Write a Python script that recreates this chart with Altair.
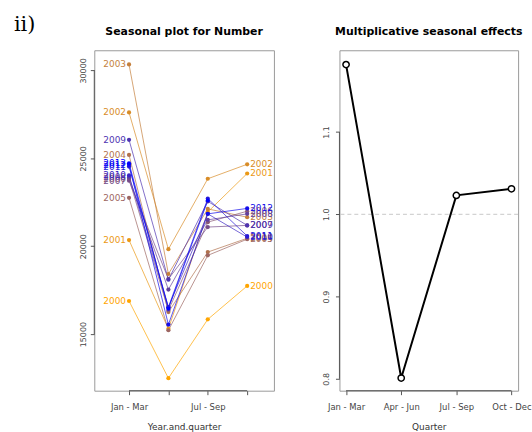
import json
import altair as alt
import pandas as pd

# ---------------- data ----------------
years = list(range(2000, 2014))
q1 = [16885, 20350, 27607, 30339, 25192, 22754, 23826, 23725, 23911, 26050, 24024, 24532, 24627, 24718]
q2 = [12494, 15300, 19831, 18420, 16253, 15220, 16350, 18138, 17534, 18100, 16535, 16535, 15542, 16450]
q3 = [15841, 21950, 23837, 22122, 19667, 19480, 21370, 21090, 21500, 22550, 21840, 22709, 21840, 22600]
q4 = [17740, 24137, 24661, 21650, 20451, 20400, 21990, 21185, 21840, 21185, 20520, 20581, 22150, None]
quarter_labels = ["Jan - Mar", "Apr - Jun", "Jul - Sep", "Oct - Dec"]
effects = [1.182, 0.801, 1.023, 1.031]
left_ticks = [15000, 20000, 25000, 30000]
right_ticks = [0.8, 0.9, 1.0, 1.1]

# ---------------- styles ----------------
def ramp(n):
    cols = []
    for i in range(n):
        t = i / (n - 1)
        cols.append("#%02x%02x%02x" % (round(255 * (1 - t)), round(165 * (1 - t)), round(255 * t)))
    return cols

palette = ramp(len(years))
FONT = "DejaVu Sans"
W1, W2, H = 181, 180, 343

rows = []
for i, y in enumerate(years):
    for q, v in enumerate([q1[i], q2[i], q3[i], q4[i]], start=1):
        if v is not None:
            rows.append({"yr": str(y), "q": q, "value": v})
df = pd.DataFrame(rows)
last_q = df.groupby("yr")["q"].max().to_dict()
df["last"] = df.apply(lambda r: 1 if (r["q"] == 4) else 0, axis=1)

eff_df = pd.DataFrame({"q": [1, 2, 3, 4], "effect": effects, "label": quarter_labels})

def one(**kw):
    return alt.Data(values=[kw])

common_axis = dict(domain=False, grid=False, tickSize=4, tickColor="#555555", tickWidth=1,
                   labelFont=FONT, labelColor="#444444", titleFont=FONT, titleFontSize=9,
                   titleFontWeight="normal", titleColor="#333333")

# ---------------- left panel ----------------
xs1 = alt.Scale(domain=[0.118, 4.68], nice=False, zero=False)
ys1 = alt.Scale(domain=[11783, 31146], nice=False, zero=False)
xax1 = alt.Axis(values=[1, 2, 3, 4],
                labelExpr="datum.value == 1 ? '%s' : datum.value == 3 ? '%s' : ''" % (quarter_labels[0], quarter_labels[2]),
                labelFontSize=8.5, labelPadding=8, labelBaseline="top",
                title="Year.and.quarter", titleY=39, titleBaseline="alphabetic", **common_axis)
yax1 = alt.Axis(values=left_ticks, format="d", labelAngle=270, labelAlign="center",
                labelBaseline="bottom", labelPadding=3, labelFontSize=8, title=None, **common_axis)

color = alt.Color("yr:N", scale=alt.Scale(domain=[str(y) for y in years], range=palette), legend=None)
X1 = alt.X("q:Q", scale=xs1, axis=xax1)
Y1 = alt.Y("value:Q", scale=ys1, axis=yax1)

base = alt.Chart(df)
lines = base.mark_line(strokeWidth=1, opacity=0.7).encode(x=X1, y=Y1, color=color, order="q:Q")
pts = base.mark_circle(size=18, opacity=1).encode(x=X1, y=Y1, color=color)
lab_l = base.transform_filter("datum.q == 1").mark_text(
    align="right", baseline="middle", dx=-3, font=FONT, fontSize=9).encode(x=X1, y=Y1, text="yr:N", color=color)
lab_r = base.transform_filter("datum.q == 4").mark_text(
    align="left", baseline="middle", dx=3, font=FONT, fontSize=9).encode(x=X1, y=Y1, text="yr:N", color=color)

yseg1 = alt.Chart(one(a=0)).mark_rule(color="#555555").encode(
    x=alt.value(0), y=alt.datum(left_ticks[0]), y2=alt.datum(left_ticks[-1]))
xseg1 = alt.Chart(one(a=0)).mark_rule(color="#555555").encode(
    x=alt.datum(1), x2=alt.datum(4), y=alt.value(H))
title1 = alt.Chart(one(t="Seasonal plot for Number")).mark_text(
    font=FONT, fontSize=11, fontWeight="bold", align="center", baseline="alphabetic", color="black").encode(
    text="t:N", x=alt.value(W1 / 2), y=alt.value(-15))
tag = alt.Chart(one(t="ii)")).mark_text(
    font="DejaVu Serif", fontSize=21, align="left", baseline="top", color="black").encode(
    text="t:N", x=alt.value(-81), y=alt.value(-36))

left = alt.layer(lines, pts, lab_l, lab_r, yseg1, xseg1, title1, tag).properties(width=W1, height=H)

# ---------------- right panel ----------------
xs2 = alt.Scale(domain=[0.88, 4.12], nice=False, zero=False)
ys2 = alt.Scale(domain=[0.7856, 1.1994], nice=False, zero=False)
xax2 = alt.Axis(values=[1, 2, 3, 4],
                labelExpr="%s[datum.value - 1]" % json.dumps(quarter_labels).replace('"', "'"),
                labelFontSize=8.5, labelPadding=8, labelBaseline="top",
                title="Quarter", titleY=39, titleBaseline="alphabetic", **common_axis)
yax2 = alt.Axis(values=right_ticks, format=".1f", labelAngle=270, labelAlign="center",
                labelBaseline="bottom", labelPadding=5, labelFontSize=8, title=None, **common_axis)
X2 = alt.X("q:Q", scale=xs2, axis=xax2)
Y2 = alt.Y("effect:Q", scale=ys2, axis=yax2)

base2 = alt.Chart(eff_df)
ref = alt.Chart(one(a=0)).mark_rule(color="#c8c8c8", strokeDash=[4, 3], strokeWidth=1).encode(y=alt.datum(1.0))
eline = base2.mark_line(color="black", strokeWidth=2).encode(x=X2, y=Y2)
epts = base2.mark_point(shape="circle", filled=True, fill="white", stroke="black", strokeWidth=1.5,
                        size=40, opacity=1).encode(x=X2, y=Y2)
yseg2 = alt.Chart(one(a=0)).mark_rule(color="#555555").encode(
    x=alt.value(0), y=alt.datum(right_ticks[0]), y2=alt.datum(right_ticks[-1]))
xseg2 = alt.Chart(one(a=0)).mark_rule(color="#555555").encode(
    x=alt.datum(1), x2=alt.datum(4), y=alt.value(H))
title2 = alt.Chart(one(t="Multiplicative seasonal effects")).mark_text(
    font=FONT, fontSize=11, fontWeight="bold", align="center", baseline="alphabetic", color="black").encode(
    text="t:N", x=alt.value(W2 / 2), y=alt.value(-15))

right = alt.layer(ref, eline, epts, yseg2, xseg2, title2).properties(width=W2, height=H)

chart = alt.hconcat(left, right, spacing=66, bounds="flush").properties(
    padding={"left": 13, "top": 12, "right": 0, "bottom": 0},
    background="white",
).configure_view(stroke="#9a9a9a", strokeWidth=1)

chart.save("out.html", embed_options={"renderer": "svg", "actions": False})
